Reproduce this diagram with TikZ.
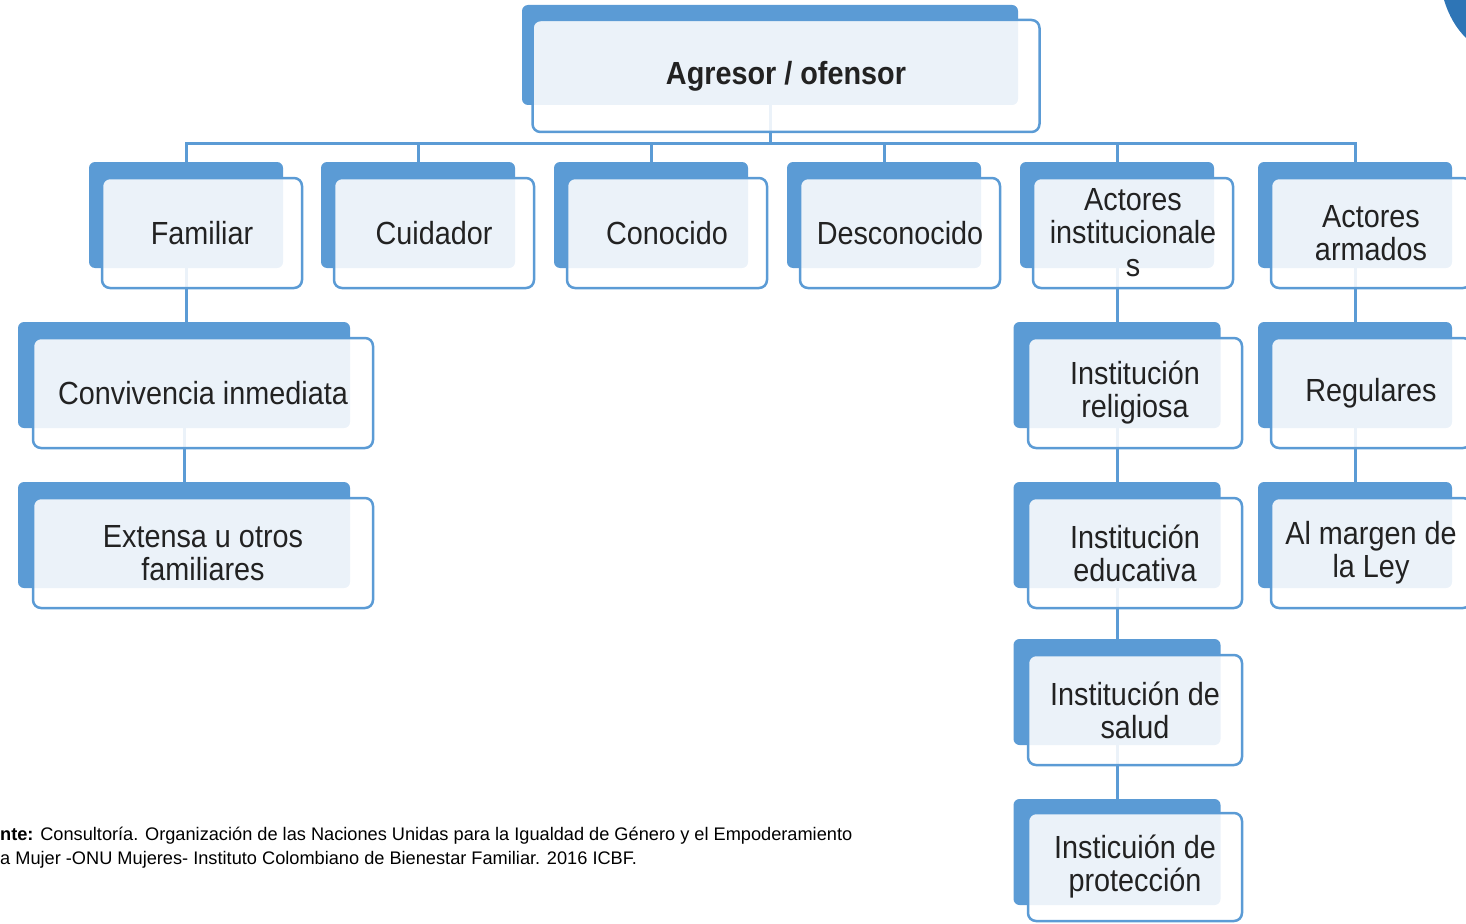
\documentclass[tikz,border=0pt]{standalone}
\usepackage{fontspec}
\setmainfont{Liberation Sans}
\newfontfamily\boxfont{Liberation Sans}[FakeStretch=0.9]
\usetikzlibrary{calc,backgrounds}
\definecolor{agblue}{HTML}{5B9BD5}
\definecolor{agdark}{HTML}{2E75B6}
\definecolor{agtext}{HTML}{222222}

\begin{document}
\begin{tikzpicture}[x=1pt,y=-1pt,
	back/.style={fill=agblue, rounded corners=6pt, inner sep=0pt},
	front/.style={draw=agblue, line width=2.5pt, fill=white, fill opacity=0.88, text opacity=1,
		rounded corners=8pt, inner sep=0pt, align=center, text=agtext,
		font=\boxfont\fontsize{32}{33}\selectfont},
	link/.style={draw=agblue, line width=3pt}]
	\useasboundingbox (0,0) rectangle (1466,923);

	% top box
	\node[back, minimum width=496pt, minimum height=100pt] (root) at (770,55) {};
	\node[front, minimum width=507pt, minimum height=112pt, font=\boxfont\bfseries\fontsize{32}{33}\selectfont] (root-t) at ($(root)+(16,21)$) {Agresor / ofensor};

	% first row
	\foreach \n/\x/\t in {fam/186/Familiar, cuid/418/Cuidador, cono/651/Conocido, desc/884/Desconocido, inst/1117/{Actores\\institucionale\\s}, arm/1355/{Actores\\armados}} {
		\node[back, minimum width=194pt, minimum height=106pt] (\n) at (\x,215) {};
		\node[front, minimum width=200pt, minimum height=110pt] (\n-t) at ($(\n)+(16,18)$) {\t};
	}

	% Familiar
	\node[back, minimum width=332pt, minimum height=106pt] (conv) at (184,375) {};
	\node[front, minimum width=340pt, minimum height=110pt] (conv-t) at ($(conv)+(19,18)$) {Convivencia inmediata};
	\node[back, minimum width=332pt, minimum height=106pt] (ext) at (184,535) {};
	\node[front, minimum width=340pt, minimum height=110pt] (ext-t) at ($(ext)+(19,18)$) {Extensa u otros\\familiares};

	% Actores institucionales
	\node[back, minimum width=207pt, minimum height=106pt] (rel) at (1117,375) {};
	\node[front, minimum width=214pt, minimum height=110pt] (rel-t) at ($(rel)+(18,18)$) {Institución\\religiosa};
	\node[back, minimum width=207pt, minimum height=106pt] (edu) at (1117,535) {};
	\node[front, minimum width=214pt, minimum height=110pt] (edu-t) at ($(edu)+(18,18)$) {Institución\\educativa};
	\node[back, minimum width=207pt, minimum height=106pt] (sal) at (1117,692) {};
	\node[front, minimum width=214pt, minimum height=110pt] (sal-t) at ($(sal)+(18,18)$) {Institución de\\salud};
	\node[back, minimum width=207pt, minimum height=106pt] (prot) at (1117,852) {};
	\node[front, minimum width=214pt, minimum height=108pt] (prot-t) at ($(prot)+(18,15)$) {Insticuión de\\protección};

	% Actores armados
	\node[back, minimum width=194pt, minimum height=106pt] (reg) at (1355,375) {};
	\node[front, minimum width=200pt, minimum height=110pt] (reg-t) at ($(reg)+(16,18)$) {Regulares};
	\node[back, minimum width=194pt, minimum height=106pt] (marg) at (1355,535) {};
	\node[front, minimum width=200pt, minimum height=110pt] (marg-t) at ($(marg)+(16,18)$) {Al margen de\\la Ley};

	\begin{scope}[on background layer]
		\foreach \n in {fam,cuid,cono,desc,inst,arm}
			\draw[link] (root.south) -- ++(0,38) -| (\n.north);
		\draw[link] (fam.south) -- (fam.south |- conv.north);
		\draw[link] (conv.south) -- (conv.south |- ext.north);
		\draw[link] (inst.south) -- (rel.north);
		\draw[link] (rel.south) -- (edu.north);
		\draw[link] (edu.south) -- (sal.north);
		\draw[link] (sal.south) -- (prot.north);
		\draw[link] (arm.south) -- (reg.north);
		\draw[link] (reg.south) -- (marg.north);
	\end{scope}

	% source
	\node[anchor=north west, inner sep=0pt, align=left, font=\fontsize{18.2}{24}\selectfont] (src) at (0,827)
		{\textbf{nte:} Consultoría. Organización de las Naciones Unidas para la Igualdad de Género y el Empoderamiento\\a Mujer -ONU Mujeres- Instituto Colombiano de Bienestar Familiar. 2016 ICBF.};

	\fill[agdark] (1444,0) .. controls (1449,16) and (1456,28) .. (1466,38) -- (1466,0) -- cycle;
\end{tikzpicture}
\end{document}
